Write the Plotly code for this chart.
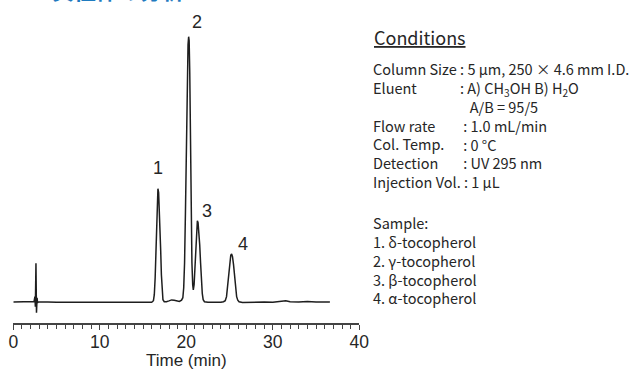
import plotly.graph_objects as go

# ---------------- data ----------------
time_min = [0.0, 0.5, 1.0, 1.5, 2.0, 2.4, 2.5, 2.55, 2.62, 2.68, 2.75, 2.8, 2.9, 3.5, 4.0,
            5.0, 6.0, 7.0, 8.0, 9.0, 10.0, 11.0, 12.0, 13.0, 14.0, 15.0, 15.6,
            16.0, 16.2, 16.3, 16.4, 16.48, 16.56, 16.64, 16.72, 16.8, 16.88, 16.96, 17.04, 17.12, 17.2, 17.3, 17.45,
            17.7, 18.0, 18.3, 18.6, 18.9, 19.2, 19.45,
            19.6, 19.7, 19.8, 19.9, 20.0, 20.1, 20.2, 20.27, 20.33, 20.4, 20.48, 20.56, 20.65, 20.74, 20.81,
            20.9, 21.0, 21.1, 21.2, 21.28, 21.36, 21.45, 21.55, 21.65, 21.75, 21.85, 21.95, 22.1,
            22.5, 23.0, 23.5, 24.0, 24.3,
            24.5, 24.65, 24.78, 24.9, 25.02, 25.14, 25.24, 25.34, 25.46, 25.58, 25.7, 25.82, 25.95, 26.1,
            26.5, 27.0, 28.0, 29.0, 30.0, 31.0, 31.5, 32.0, 33.0, 34.0, 35.0, 36.0, 36.6]
signal = [0.8, 1.0, 0.7, 1.0, 0.9, 1.2, 6.0, -4.0, 39.4, -10.0, 5.0, 0.0, 1.0, 0.5, 0.8,
          0.4, 0.6, 0.3, 0.7, 0.5, 0.4, 0.6, 0.3, 0.5, 0.4, 0.6, 0.5,
          0.5, 2.0, 8.0, 25.0, 55.0, 85.0, 106.0, 114.0, 110.0, 95.0, 75.0, 52.0, 28.0, 10.0, 3.0, 1.0,
          1.0, 1.8, 2.8, 2.5, 1.5, 1.2, 2.5,
          5.0, 15.0, 40.0, 90.0, 160.0, 225.0, 258.0, 266.0, 262.0, 230.0, 160.0, 90.0, 40.0, 18.0, 12.7,
          18.0, 35.0, 58.0, 76.0, 82.0, 80.0, 72.0, 58.0, 40.0, 22.0, 9.0, 3.0, 1.0,
          0.5, 0.3, 0.6, 0.4, 1.0,
          2.0, 6.0, 18.0, 32.0, 42.0, 47.5, 48.7, 46.0, 38.0, 26.0, 14.0, 6.0, 2.5, 1.0,
          0.2, 0.4, 0.3, 0.6, 0.5, 1.0, 2.0, 1.0, 0.6, 1.2, 0.6, 0.8, 0.6]

peak_labels = ["1", "2", "3", "4"]
peak_times = [16.72, 20.3, 21.28, 25.24]
peak_heights = [114.0, 266.0, 82.0, 48.7]

x_ticks = [0, 10, 20, 30, 40]
x_title = "Time (min)"

cond_title = "Conditions"
cond_labels = ["Column Size : 5 µm, 250 × 4.6 mm I.D.", "Eluent", "\u00a0", "Flow rate",
               "Col. Temp.", "Detection", "Injection Vol. : 1 µL"]
cond_values = [": A) CH<sub>3</sub>OH B) H<sub>2</sub>O", "\u00a0\u00a0\u00a0A/B = 95/5",
               "\u00a0: 1.0 mL/min", "\u00a0: 0 °C", "\u00a0: UV 295 nm"]
sample_lines = ["Sample:", "1. δ-tocopherol", "2. γ-tocopherol", "3. β-tocopherol", "4. α-tocopherol"]
page_title = "トコフェロール異性体の分析"

# ---------------- layout helpers ----------------
W, H = 635, 370
def px(x):
    return x / W
def py(y):
    return 1 - y / H

TXT = "#262626"
fig = go.Figure()
fig.add_trace(go.Scatter(x=time_min, y=signal, mode="lines",
                         line=dict(color="#1e1e1e", width=1.5), hoverinfo="skip",
                         showlegend=False))

ann = []
# peak labels
shifts = {"1": (0, 21), "2": (8, 15), "3": (10, 10), "4": (11, 10.5)}
for lab, t, h in zip(peak_labels, peak_times, peak_heights):
    dx, dy = shifts[lab]
    ann.append(dict(x=t, y=h, xref="x", yref="y", text=lab, showarrow=False,
                    xshift=dx, yshift=dy, yanchor="middle",
                    font=dict(family="Liberation Sans, Arial", size=18, color=TXT)))

ann.append(dict(x=0.5, y=py(360), xref="x domain", yref="paper", text=x_title, showarrow=False,
                font=dict(family="Liberation Sans, Arial", size=17, color=TXT), yanchor="middle"))

F = "Noto Sans CJK JP, Noto Sans, sans-serif"
ann.append(dict(x=px(372), y=py(37.5), xref="paper", yref="paper", text=cond_title,
                showarrow=False, xanchor="left", yanchor="middle",
                font=dict(family=F, size=18, color=TXT, lineposition="under")))
ann.append(dict(x=px(371), y=py(125.5), xref="paper", yref="paper", text="<br>".join(cond_labels),
                showarrow=False, xanchor="left", yanchor="middle", align="left",
                font=dict(family=F, size=14.5, color=TXT)))
ann.append(dict(x=px(458), y=py(124.7), xref="paper", yref="paper", text="<br>".join(cond_values),
                showarrow=False, xanchor="left", yanchor="middle", align="left",
                font=dict(family=F, size=14.5, color=TXT)))
ann.append(dict(x=px(371), y=py(260), xref="paper", yref="paper", text="<br>".join(sample_lines),
                showarrow=False, xanchor="left", yanchor="middle", align="left",
                font=dict(family=F, size=14.5, color=TXT)))

# cut-off blue page title at the very top
ann.append(dict(x=px(186), y=py(6.5), xref="paper", yref="paper", text="<b>" + page_title + "</b>",
                showarrow=False, xanchor="right", yanchor="bottom",
                font=dict(family="Noto Sans CJK JP", size=22, color="#1f7bbf")))

fig.update_layout(
    width=W, height=H, margin=dict(l=0, r=0, t=0, b=0, autoexpand=False),
    paper_bgcolor="white", plot_bgcolor="white",
    annotations=ann,
    xaxis=dict(domain=[px(13.3), px(359.3)], range=[0, 40], tickvals=x_ticks,
               ticks="outside", ticklen=5, tickwidth=1, tickcolor="#444",
               showline=True, linecolor="#444", linewidth=1.5, showgrid=False,
               zeroline=False, tickfont=dict(family="Liberation Sans, Arial", size=17.5, color=TXT),
               ticklabelstandoff=-3,
               minor=dict(dtick=1, ticks="outside", ticklen=4, tickwidth=1, tickcolor="#444",
                          showgrid=False),
               automargin=False, fixedrange=True),
    yaxis=dict(domain=[py(323), py(30)], range=[-20.3, 272.7], visible=False,
               showgrid=False, zeroline=False, fixedrange=True),
)

fig.write_html("out.html", config={"displayModeBar": False},
               post_script="document.body.style.margin='0';document.body.style.overflow='hidden';")
